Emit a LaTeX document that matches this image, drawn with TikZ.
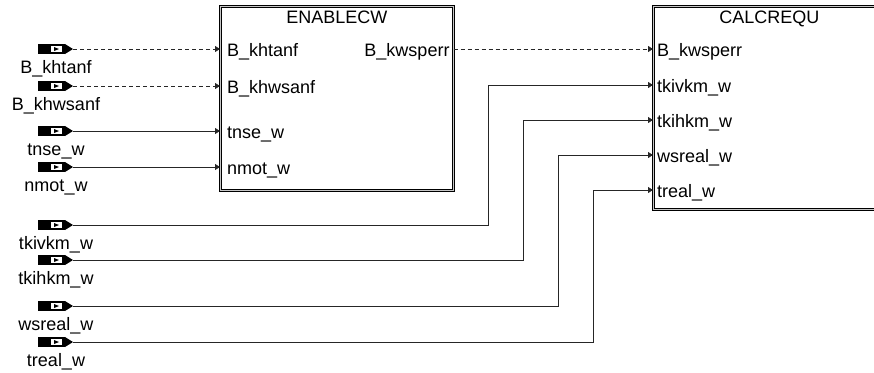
\documentclass[tikz,border=0pt]{standalone}
\usepackage{fontspec}
\setmainfont{Liberation Sans}
\usetikzlibrary{arrows.meta, calc}

\tikzset{
  sig/.style={line width=0.9pt, black!85, -{Triangle[length=5pt,width=6pt]}},
  boolsig/.style={sig, dash pattern=on 4pt off 3pt},
  block/.style={draw=black, double=gray!45, double distance=1.6pt, line width=0.7pt,
    fill=white, anchor=north west, inner sep=0pt},
  portin/.style={anchor=base west, inner sep=0pt},
  portout/.style={anchor=base east, inner sep=0pt},
  blocktitle/.style={anchor=base, inner sep=0pt},
  pics/inport/.style={code={
    \fill (0,-5) rectangle (27,5);
    \fill (27,-5) -- (35,0) -- (27,5) -- cycle;
    \fill[white] (13,-3) rectangle (24,3);
    \fill (16,-2) -- (21,0) -- (16,2) -- cycle;
    \coordinate (-tip) at (35,0);
    \node[anchor=base, inner sep=0pt] (-lbl) at (18,24) {#1};
  }}
}

\begin{document}
\begin{tikzpicture}[x=1pt, y=-1pt, font=\fontsize{18}{21}\selectfont]
\useasboundingbox (0,0) rectangle (874,372);
\clip (0,0) rectangle (874,372);
% blocks
\node[block, minimum width=233pt, minimum height=184pt] (enable) at (220,6) {};
\node[blocktitle] (enable-title) at ($(enable.north)+(0,17)$) {ENABLECW};
\node[block, minimum width=232pt, minimum height=203pt] (calc) at (653,6) {};
\node[blocktitle] (calc-title) at ($(calc.north)+(0,17)$) {CALCREQU};
% input signals
\pic (khtanf) at (38,49) {inport=B\_khtanf};
\pic (khwsanf) at (38,86) {inport=B\_khwsanf};
\pic (tnse) at (38,131) {inport=tnse\_w};
\pic (nmot) at (38,167) {inport=nmot\_w};
\pic (tkivkm) at (38,225) {inport=tkivkm\_w};
\pic (tkihkm) at (38,260) {inport=tkihkm\_w};
\pic (wsreal) at (38,306) {inport=wsreal\_w};
\pic (treal) at (38,342) {inport=treal\_w};
% ENABLECW ports
\draw[boolsig] (khtanf-tip) -- (khtanf-tip -| enable.west);
\draw[boolsig] (khwsanf-tip) -- (khwsanf-tip -| enable.west);
\draw[sig] (tnse-tip) -- (tnse-tip -| enable.west);
\draw[sig] (nmot-tip) -- (nmot-tip -| enable.west);
\node[portin] (en-khtanf) at ($(khtanf-tip -| enable.west)+(7,7)$) {B\_khtanf};
\node[portin] (en-khwsanf) at ($(khwsanf-tip -| enable.west)+(7,7)$) {B\_khwsanf};
\node[portin] (en-tnse) at ($(tnse-tip -| enable.west)+(7,7)$) {tnse\_w};
\node[portin] (en-nmot) at ($(nmot-tip -| enable.west)+(7,7)$) {nmot\_w};
\coordinate (en-out) at (khtanf-tip -| enable.east);
\node[portout] (en-kwsperr) at ($(en-out)+(-4,7)$) {B\_kwsperr};
% CALCREQU ports
\coordinate (cq-in2) at ($(calc.north west)+(0,79)$);
\coordinate (cq-in3) at ($(calc.north west)+(0,114)$);
\coordinate (cq-in4) at ($(calc.north west)+(0,149)$);
\coordinate (cq-in5) at ($(calc.north west)+(0,184)$);
\coordinate (bend2) at (488,0);
\coordinate (bend3) at (523,0);
\coordinate (bend4) at (558,0);
\coordinate (bend5) at (593,0);
\draw[boolsig] (en-out) -- (en-out -| calc.west);
\draw[sig] (tkivkm-tip) -| (bend2 |- cq-in2) -- (cq-in2);
\draw[sig] (tkihkm-tip) -| (bend3 |- cq-in3) -- (cq-in3);
\draw[sig] (wsreal-tip) -| (bend4 |- cq-in4) -- (cq-in4);
\draw[sig] (treal-tip) -| (bend5 |- cq-in5) -- (cq-in5);
\node[portin] (cq-kwsperr) at ($(en-out -| calc.west)+(4,7)$) {B\_kwsperr};
\node[portin] (cq-tkivkm) at ($(cq-in2)+(4,7)$) {tkivkm\_w};
\node[portin] (cq-tkihkm) at ($(cq-in3)+(4,7)$) {tkihkm\_w};
\node[portin] (cq-wsreal) at ($(cq-in4)+(4,7)$) {wsreal\_w};
\node[portin] (cq-treal) at ($(cq-in5)+(4,7)$) {treal\_w};
\end{tikzpicture}
\end{document}
